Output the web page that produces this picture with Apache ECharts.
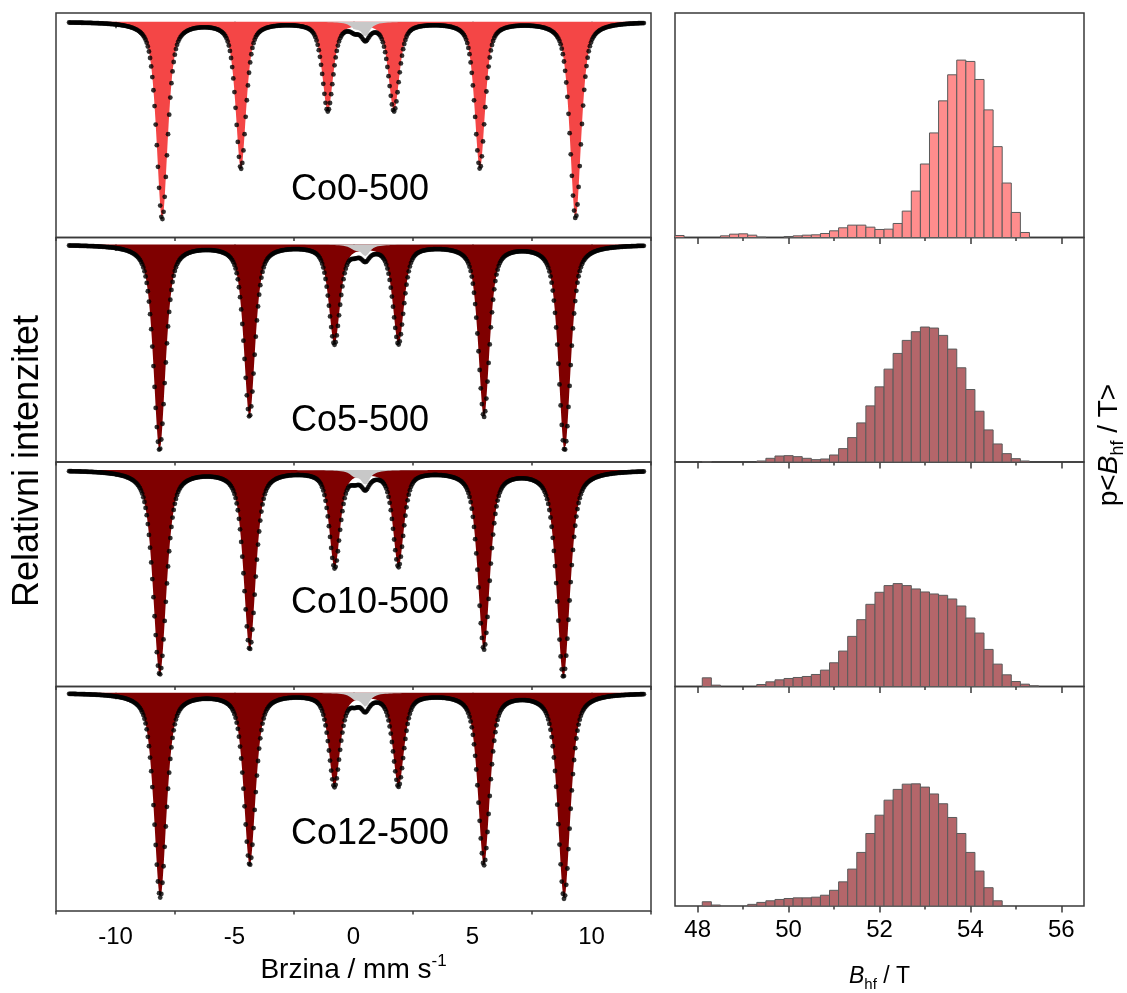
<!DOCTYPE html>
<html><head><meta charset="utf-8">
<script src="https://cdn.jsdelivr.net/npm/echarts@6/dist/echarts.min.js"></script>
<style>html,body{margin:0;padding:0;background:#fff}#c{width:1127px;height:993px}</style>
</head><body><div id="c"></div>
<script>
// ---------------- DATA ----------------
const sampleNames = ['Co0-500', 'Co5-500', 'Co10-500', 'Co12-500'];

// Sextet line positions (mm/s)
const sextetPos_Co0  = [-8.04, -4.73, -1.08, 1.70, 5.31, 9.33];
const sextetPos_Co5  = [-8.15, -4.37, -0.80, 1.89, 5.48, 8.87];
const sextetPos_Co10 = [-8.14, -4.36, -0.79, 1.89, 5.48, 8.82];
const sextetPos_Co12 = [-8.12, -4.36, -0.80, 1.89, 5.48, 8.85];
// Sextet line depths (relative absorption, arb. units)
const sextetDepth_Co0  = [197, 146, 88, 88, 146, 196];
const sextetDepth_Co5  = [205, 171, 98, 98, 171, 205];
const sextetDepth_Co10 = [204, 178, 96, 95, 178, 206];
const sextetDepth_Co12 = [204, 171, 92, 92, 171, 205];
// Sextet line half widths (mm/s)
const sextetHwhm_Co0  = [0.28, 0.26, 0.27, 0.27, 0.26, 0.28];
const sextetHwhm_Co5  = [0.30, 0.28, 0.28, 0.28, 0.28, 0.30];
const sextetHwhm_Co10 = [0.33, 0.30, 0.27, 0.27, 0.30, 0.33];
const sextetHwhm_Co12 = [0.31, 0.29, 0.28, 0.28, 0.29, 0.31];
const sextetLorentzFraction = 0.6;

// Paramagnetic doublet (grey)
const doubletPos = [0.05, 0.50];
const doubletHwhm = 0.22;
const doubletDepth_Co0  = [5, 14];
const doubletDepth_Co5  = [4, 11];
const doubletDepth_Co10 = [5, 14];
const doubletDepth_Co12 = [5, 13];

// Measured velocity span and channel count
const velocityRange = [-11.95, 12.2];
const channelCount = 512;

// Hyperfine field distribution (bin centres in T, bin width 0.2 T)
const bhfBinWidth = 0.2;
const bhfCenters = [47.6,47.8,48.0,48.2,48.4,48.6,48.8,49.0,49.2,49.4,49.6,49.8,50.0,50.2,50.4,
  50.6,50.8,51.0,51.2,51.4,51.6,51.8,52.0,52.2,52.4,52.6,52.8,53.0,53.2,53.4,
  53.6,53.8,54.0,54.2,54.4,54.6,54.8,55.0,55.2,55.4,55.6,55.8,56.0,56.2,56.4];
const pBhf_Co0 = [6,0,0,0,0, 5,10,11,7,1, 0,0,3,5,7, 8,12,20,29,37, 37,31,24,25,42,
  79,139,220,313,409, 487,531,527,473,382, 272,163,75,15,0, 0,0,0,0,0];
const pBhf_Co5 = [0,0,0,1,0, 0,0,0,0,3, 11,18,19,16,11, 7,9,21,40,73, 117,168,225,278,325,
  364,390,404,401,379, 338,282,217,152,96, 54,25,10,3,0, 0,0,0,0,0];
const pBhf_Co10 = [0,0,0,26,4, 0,0,0,0,6, 14,20,24,27,30, 36,49,71,106,150, 200,246,282,302,308,
  302,292,283,277,273, 262,241,205,160,111, 67,35,15,7,2, 0,0,0,0,0];
const pBhf_Co12 = [0,0,0,13,3, 0,0,0,5,11, 16,20,23,25,25, 27,33,48,74,113, 164,222,278,324,357,
  373,374,364,343,313, 271,222,164,107,56, 16,0,0,0,0, 0,0,0,0,0];

// Axis ticks
const velocityMajorTicks = [-10, -5, 0, 5, 10];
const velocityMinorTicks = [-12.5, -7.5, -2.5, 2.5, 7.5, 12.5];
const bhfMajorTicks = [48, 50, 52, 54, 56];
const bhfMinorTicks = [49, 51, 53, 55];

// ---------------- MODEL ----------------
const sextets = [
  {pos: sextetPos_Co0,  depth: sextetDepth_Co0,  hwhm: sextetHwhm_Co0,  dbl: doubletDepth_Co0,  p: pBhf_Co0},
  {pos: sextetPos_Co5,  depth: sextetDepth_Co5,  hwhm: sextetHwhm_Co5,  dbl: doubletDepth_Co5,  p: pBhf_Co5},
  {pos: sextetPos_Co10, depth: sextetDepth_Co10, hwhm: sextetHwhm_Co10, dbl: doubletDepth_Co10, p: pBhf_Co10},
  {pos: sextetPos_Co12, depth: sextetDepth_Co12, hwhm: sextetHwhm_Co12, dbl: doubletDepth_Co12, p: pBhf_Co12}
];
function pseudoVoigt(v, c, g, eta) {
  const u = (v - c) / g;
  return eta / (1 + u * u) + (1 - eta) * Math.exp(-Math.LN2 * u * u);
}
function sextetAbs(v, s) {
  let a = 0;
  for (let i = 0; i < s.pos.length; i++) a += s.depth[i] * pseudoVoigt(v, s.pos[i], s.hwhm[i], sextetLorentzFraction);
  return a;
}
function doubletAbs(v, s) {
  let a = 0;
  for (let i = 0; i < doubletPos.length; i++) a += s.dbl[i] * pseudoVoigt(v, doubletPos[i], doubletHwhm, 1);
  return a;
}

// ---------------- LAYOUT / STYLE ----------------
const FONT = 'Liberation Sans, Arial, sans-serif';
const panelTop = 13, panelH = 224.5;
const leftX = 56, leftW = 595, rightX = 675, rightW = 409;
const baselineOffset = [8.7, 7, 8, 6.3];
const histMax = 672;
const labelTops = [172.3, 403.5, 584.7, 815.7];
const fillColors = ['#f44646', '#7f0000', '#7f0000', '#7f0000'];
const barColors = ['#ff8d8d', '#b4666a', '#b4666a', '#b4666a'];
const frameColor = '#3a3a3a';

const grid = [], xAxis = [], yAxis = [], series = [], title = [];
for (let i = 0; i < 4; i++) {
  const top = panelTop + i * panelH;
  const last = i === 3;
  const s = sextets[i];
  grid.push({left: leftX, top: top, width: leftW, height: panelH, show: true, borderColor: frameColor, borderWidth: 1.5});
  grid.push({left: rightX, top: top, width: rightW, height: panelH, show: true, borderColor: frameColor, borderWidth: 1.5});
  const gl = 2 * i, gr = 2 * i + 1;
  const tickStyle = {color: frameColor, width: 1.5};
  // left major
  xAxis.push({type: 'value', gridIndex: gl, min: -12.5, max: 12.5, position: 'bottom',
    axisLine: {show: false}, splitLine: {show: false},
    axisTick: {show: true, inside: false, length: 6.5, customValues: velocityMajorTicks, lineStyle: tickStyle},
    axisLabel: {show: last, customValues: velocityMajorTicks, fontSize: 24, color: '#000', margin: 14, fontFamily: FONT},
    name: last ? 'Brzina / mm s{sup|-1}' : '', nameLocation: 'middle', nameGap: 42,
    nameTextStyle: {fontSize: 28, color: '#000', fontFamily: FONT, lineHeight: 34,
      rich: {sup: {fontSize: 17, color: '#000', fontFamily: FONT, verticalAlign: 'top', lineHeight: 17}}}
  });
  // left minor
  xAxis.push({type: 'value', gridIndex: gl, min: -12.5, max: 12.5, position: 'bottom',
    axisLine: {show: false}, splitLine: {show: false}, axisLabel: {show: false},
    axisTick: {show: true, inside: false, length: 3.5, customValues: velocityMinorTicks, lineStyle: tickStyle}
  });
  // right major
  xAxis.push({type: 'value', gridIndex: gr, min: 47.5, max: 56.5, position: 'bottom',
    axisLine: {show: false}, splitLine: {show: false},
    axisTick: {show: true, inside: false, length: 6.5, customValues: bhfMajorTicks, lineStyle: tickStyle},
    axisLabel: {show: last, customValues: bhfMajorTicks, fontSize: 24, color: '#000', margin: 12, fontFamily: FONT},
    name: last ? '{i|B}{sub|hf} / T' : '', nameLocation: 'middle', nameGap: 56,
    nameTextStyle: {fontSize: 23, color: '#000', fontFamily: FONT, lineHeight: 30,
      rich: {i: {fontSize: 23, fontStyle: 'italic', color: '#000', fontFamily: FONT, lineHeight: 30},
             sub: {fontSize: 15, color: '#000', fontFamily: FONT, verticalAlign: 'bottom', lineHeight: 17}}}
  });
  // right minor
  xAxis.push({type: 'value', gridIndex: gr, min: 47.5, max: 56.5, position: 'bottom',
    axisLine: {show: false}, splitLine: {show: false}, axisLabel: {show: false},
    axisTick: {show: true, inside: false, length: 3.5, customValues: bhfMinorTicks, lineStyle: tickStyle}
  });
  yAxis.push({type: 'value', gridIndex: gl, inverse: true, min: -baselineOffset[i], max: panelH - baselineOffset[i], show: false});
  yAxis.push({type: 'value', gridIndex: gr, min: 0, max: histMax, show: false});

  // curves
  const sext = [], dbl = [];
  for (let v = velocityRange[0]; v <= velocityRange[1] + 1e-9; v += 0.01) {
    sext.push([v, sextetAbs(v, s)]);
    dbl.push([v, doubletAbs(v, s)]);
  }
  const pts = [];
  for (let k = 0; k < channelCount; k++) {
    const v = velocityRange[0] + k * (velocityRange[1] - velocityRange[0]) / (channelCount - 1);
    pts.push([v, sextetAbs(v, s) + doubletAbs(v, s)]);
  }
  const xi = 4 * i;
  series.push({type: 'line', xAxisIndex: xi, yAxisIndex: gl, data: sext, symbol: 'none', showSymbol: false,
    lineStyle: {width: 0, opacity: 0}, areaStyle: {color: fillColors[i], opacity: 1}, silent: true, z: 2, sampling: null});
  series.push({type: 'line', xAxisIndex: xi, yAxisIndex: gl, data: dbl, symbol: 'none', showSymbol: false,
    lineStyle: {width: 0, opacity: 0}, areaStyle: {color: '#c8c8c8', opacity: 1}, silent: true, z: 3});
  series.push({type: 'scatter', xAxisIndex: xi, yAxisIndex: gl, data: pts, symbolSize: 4.8,
    itemStyle: {color: '#000'}, silent: true, z: 4});

  // histogram
  const barColor = barColors[i];
  series.push({type: 'custom', xAxisIndex: xi + 2, yAxisIndex: gr,
    data: bhfCenters.map((b, k) => [b, s.p[k]]), silent: true, z: 2,
    renderItem: function (params, api) {
      const b = api.value(0), p = api.value(1);
      if (!(p > 0)) return null;
      const lt = api.coord([b - bhfBinWidth / 2, p]);
      const rb = api.coord([b + bhfBinWidth / 2, 0]);
      return {type: 'rect', shape: {x: lt[0], y: lt[1], width: rb[0] - lt[0], height: rb[1] - lt[1]},
        style: {fill: barColor, stroke: '#5a5a5a', lineWidth: 1}};
    }
  });

  title.push({text: sampleNames[i], left: 291, top: labelTops[i], padding: 0,
    textStyle: {fontSize: 36, fontWeight: 'normal', color: '#000', fontFamily: FONT}});
}

const chart = echarts.init(document.getElementById('c'), null, {renderer: 'canvas'});
chart.setOption({
  animation: false,
  backgroundColor: '#fff',
  title: title,
  grid: grid, xAxis: xAxis, yAxis: yAxis, series: series,
  graphic: [
    {type: 'text', x: 28, y: 461, rotation: Math.PI / 2,
      style: {text: 'Relativni intenzitet', fontSize: 36, fontFamily: FONT, fill: '#000', align: 'center', verticalAlign: 'middle'}},
    {type: 'text', x: 1109, y: 445, rotation: Math.PI / 2,
      style: {text: 'p<{i|B}{sub|hf} / T>', fontSize: 28, fontFamily: FONT, fill: '#000', align: 'center', verticalAlign: 'middle', lineHeight: 36,
        rich: {i: {fontSize: 28, fontStyle: 'italic', fontFamily: FONT, fill: '#000', lineHeight: 36},
               sub: {fontSize: 18, fontFamily: FONT, fill: '#000', verticalAlign: 'bottom', lineHeight: 19}}}}
  ]
});
</script></body></html>
